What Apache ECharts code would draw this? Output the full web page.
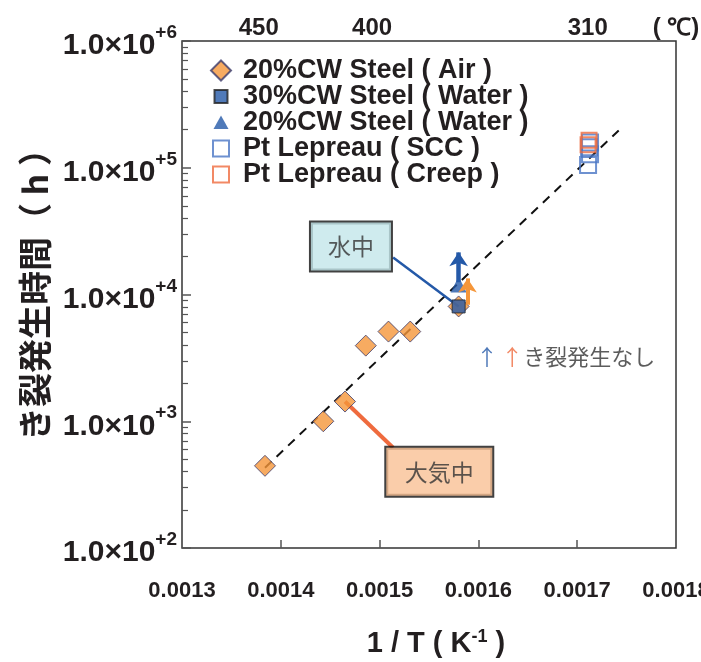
<!DOCTYPE html>
<html>
<head>
<meta charset="utf-8">
<script src="https://cdn.jsdelivr.net/npm/echarts@6/dist/echarts.min.js"></script>
<style>html,body{margin:0;padding:0;background:#fff}#c{width:701px;height:662px}</style>
</head>
<body>
<div id="c"></div>
<script>
// ---- data ----
const airX = [0.001384, 0.001443, 0.001465, 0.001486, 0.001509, 0.001531, 0.00158];
const airY = [445, 1000, 1430, 3950, 5100, 5100, 8050];
const water30X = [0.00158];
const water30Y = [8050];
const water20X = [0.00158];
const water20Y = [12000];
const sccX = [0.001711, 0.001713, 0.001712, 0.001713];
const sccY = [105000, 128000, 145000, 158000];
const creepX = [0.001711, 0.001712];
const creepY = [152000, 165000];
const fitX = [0.001384, 0.001742];
const fitY = [430, 197000];
// no-crack arrows: [x, yStart, yEnd]
const arrowBlue = [0.00158, 12500, 21500];
const arrowOrange = [0.001589, 8300, 13400];
// top temperature axis
const topVals = [0.0013777, 0.0014924, 0.0017107, 0.00180];
const topLabels = ['450', '400', '310', '( \u2103)'];
const xTicks = [0.0014, 0.0015, 0.0016, 0.0017];
const xLabels = [0.0013, 0.0014, 0.0015, 0.0016, 0.0017, 0.0018];
const yMinor = [];
[100, 1000, 10000, 100000].forEach(d => { for (let k = 2; k <= 9; k++) yMinor.push(k * d); });
// annotation anchors
const waterBox = [0.001471, 23900];
const waterLeader = [[0.0015137, 19600], [0.00158, 8050]];
const airBox = [0.0015604, 399];
const airLeader = [[0.001465, 1430], [0.0015137, 618]];
const noteAt = [0.0016883, 3236];

const zip = (xs, ys) => xs.map((x, i) => [x, ys[i]]);
const FONT = '"Liberation Sans", Arial, sans-serif';
const JP = '"Noto Sans CJK JP", sans-serif';
const BLUE = '#2459a8', ORANGE = '#f5963a', SCC = '#4a75c4', CREEP = '#ef6b3e';

const chart = echarts.init(document.getElementById('c'));
chart.setOption({
  animation: false,
  backgroundColor: '#fff',
  grid: { left: 182, right: 25, top: 41, bottom: 114, outerBoundsMode: 'none', containLabel: false,
    show: true, borderColor: '#333', borderWidth: 1.5, backgroundColor: 'transparent' },
  legend: {
    orient: 'vertical', left: 205, top: 52, itemGap: -1, itemWidth: 22, itemHeight: 20,
    textStyle: { fontFamily: FONT, fontWeight: 'bold', fontSize: 27, lineHeight: 25, color: '#231f20', padding: [0, 0, 0, 6] },
    data: [
      { name: '20%CW Steel ( Air )', icon: 'path://M10,0 L20,10 L10,20 L0,10 Z' },
      { name: '30%CW Steel ( Water )', icon: 'path://M0,0 M20,20 M3.5,3.5 L16.5,3.5 L16.5,16.5 L3.5,16.5 Z' },
      { name: '20%CW Steel ( Water )', icon: 'path://M0,0 M20,20 M10,3 L17.5,16.5 L2.5,16.5 Z' },
      { name: 'Pt Lepreau ( SCC )', icon: 'path://M0,0 M20,20 M2,2 L18,2 L18,18 L2,18 Z' },
      { name: 'Pt Lepreau ( Creep )', icon: 'path://M0,0 M20,20 M2,2 L18,2 L18,18 L2,18 Z' }
    ]
  },
  xAxis: [{
    type: 'value', min: 0.0013, max: 0.0018, position: 'bottom',
    axisLine: { show: false }, splitLine: { show: false },
    axisTick: { show: true, inside: true, length: 8, customValues: xTicks, lineStyle: { color: '#555', width: 1.5 } },
    axisLabel: { customValues: xLabels, margin: 32, fontFamily: FONT, fontWeight: 'bold', fontSize: 22, color: '#231f20', formatter: v => v.toFixed(4) },
    name: '{a|1 / T ( K}{s|-1}{a| )}', nameLocation: 'middle', nameGap: 80,
    nameTextStyle: { padding: [0, 0, 0, 14], rich: { a: { fontFamily: FONT, fontWeight: 'bold', fontSize: 29, color: '#231f20' }, s: { fontFamily: FONT, fontWeight: 'bold', fontSize: 18, color: '#231f20', padding: [0, 0, 14, 0] } } }
  }, {
    type: 'value', min: 0.0013, max: 0.0018, position: 'top',
    axisLine: { show: false }, splitLine: { show: false }, axisTick: { show: false },
    axisLabel: { customValues: topVals, margin: 1, fontFamily: FONT, fontWeight: 'bold', fontSize: 24, color: '#231f20',
      formatter: v => { let bi = 0; topVals.forEach((t, i) => { if (Math.abs(t - v) < Math.abs(topVals[bi] - v)) bi = i; }); return topLabels[bi]; } }
  }],
  yAxis: [{
    type: 'log', logBase: 10, min: 100, max: 1000000,
    axisLine: { show: false }, splitLine: { show: false },
    axisTick: { show: true, inside: true, length: 9, lineStyle: { color: '#555', width: 1.5 } },
    axisLabel: { margin: 5, formatter: v => '{a|1.0\u00d710}{s|+' + Math.round(Math.log10(v)) + '}',
      rich: { a: { fontFamily: FONT, fontWeight: 'bold', fontSize: 30, color: '#231f20', padding: [10, 0, 0, 0] }, s: { fontFamily: FONT, fontWeight: 'bold', fontSize: 19, color: '#231f20', padding: [0, 0, 16, 0] } } },
    name: 'き裂発生時間（ h ）', nameLocation: 'middle', nameGap: 126, nameRotate: 90,
    nameTextStyle: { fontFamily: JP, fontWeight: 'bold', fontSize: 34, color: '#231f20', padding: [0, 0, 0, 16] }
  }, {
    type: 'log', logBase: 10, min: 100, max: 1000000, position: 'left',
    axisLine: { show: false }, splitLine: { show: false }, axisLabel: { show: false },
    axisTick: { show: true, inside: true, length: 6, customValues: yMinor, lineStyle: { color: '#555', width: 1.2 } }
  }],
  series: [
    { type: 'line', name: 'fit', data: zip(fitX, fitY), showSymbol: false, symbol: 'none', z: 1,
      lineStyle: { color: '#111', width: 2, type: [9, 7] }, silent: true },
    { type: 'lines', coordinateSystem: 'cartesian2d', z: 2, silent: true,
      data: [
        { coords: waterLeader, lineStyle: { color: BLUE, width: 2.5, opacity: 1 } },
        { coords: airLeader, lineStyle: { color: CREEP, width: 4, opacity: 1 } }
      ], symbol: 'none' },
    { type: 'scatter', name: '20%CW Steel ( Air )', data: zip(airX, airY), symbol: 'diamond', symbolSize: 21, z: 3,
      itemStyle: { color: ORANGE, borderColor: '#3b3b6b', borderWidth: 1 } },
    { type: 'scatter', name: '30%CW Steel ( Water )', data: zip(water30X, water30Y), symbol: 'rect', symbolSize: 13, z: 4,
      itemStyle: { color: BLUE, borderColor: '#222', borderWidth: 1 } },
    { type: 'scatter', name: '20%CW Steel ( Water )', data: zip(water20X, water20Y), symbol: 'triangle', symbolSize: 16, z: 4,
      itemStyle: { color: BLUE } },
    { type: 'scatter', name: 'Pt Lepreau ( SCC )', data: zip(sccX, sccY), symbol: 'rect', symbolSize: 16, z: 3,
      itemStyle: { color: 'rgba(255,255,255,0)', borderColor: SCC, borderWidth: 2 } },
    { type: 'scatter', name: 'Pt Lepreau ( Creep )', data: zip(creepX, creepY), symbol: 'rect', symbolSize: 15, z: 4,
      itemStyle: { color: 'rgba(255,255,255,0)', borderColor: CREEP, borderWidth: 2 } },
    { type: 'lines', coordinateSystem: 'cartesian2d', z: 5, silent: true, symbol: ['none', 'arrow'], symbolSize: 14,
      data: [
        { coords: [[arrowBlue[0], arrowBlue[1]], [arrowBlue[0], arrowBlue[2]]], lineStyle: { color: BLUE, width: 4.5, opacity: 1 } },
        { coords: [[arrowOrange[0], arrowOrange[1]], [arrowOrange[0], arrowOrange[2]]], lineStyle: { color: ORANGE, width: 4, opacity: 1 } }
      ] },
    { type: 'scatter', name: 'boxes', symbolSize: 0, z: 6, silent: true,
      data: [
        { value: waterBox, label: { formatter: '水中', backgroundColor: '#c3e6ea', width: 80, height: 48 } },
        { value: airBox, label: { formatter: '大気中', backgroundColor: '#f9c095', width: 106, height: 48 } }
      ],
      label: { show: true, position: 'inside', align: 'center', verticalAlign: 'middle', lineHeight: 48,
        fontFamily: JP, fontSize: 23, color: '#333', borderColor: '#111', borderWidth: 2 } },
    { type: 'scatter', name: 'note', symbolSize: 0, z: 6, silent: true,
      data: [{ value: noteAt }],
      label: { show: true, position: 'inside', formatter: '{b|↑} {o|↑}{t|き裂発生なし}',
        rich: { b: { color: BLUE, fontFamily: JP, fontSize: 22 }, o: { color: CREEP, fontFamily: JP, fontSize: 22 }, t: { color: '#333', fontFamily: JP, fontSize: 22 } } } }
  ]
});
</script>
</body>
</html>
